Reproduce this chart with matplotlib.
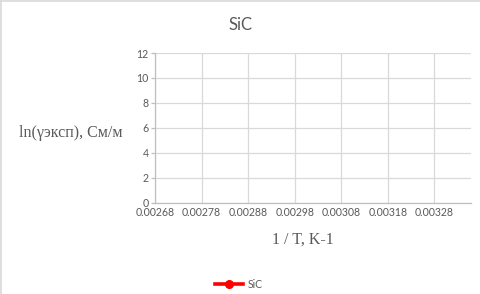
import matplotlib
matplotlib.use("Agg")
import matplotlib.pyplot as plt
from matplotlib.lines import Line2D

# Data (no visible points in the reference plot area)
series_name = "SiC"
x_values = []
y_values = []

x_ticks = [0.00268, 0.00278, 0.00288, 0.00298, 0.00308, 0.00318, 0.00328]
x_tick_labels = ["0.00268", "0.00278", "0.00288", "0.00298", "0.00308", "0.00318", "0.00328"]
y_ticks = [0, 2, 4, 6, 8, 10, 12]

title = "SiC"
x_label = "1 / T, K-1"
y_label = "ln(γэксп), См/м"

fig = plt.figure(figsize=(4.81, 2.94), dpi=100)
ax = fig.add_axes([155/481, (294-202.5)/294, (471-155)/481, (202.5-53)/294])

ax.plot(x_values, y_values, color="#ff0000", marker="o", lw=2.2, ms=5, label=series_name)

ax.set_xlim(0.00268, 0.00268 + (471-155)/46.55*0.0001)
ax.set_ylim(0, 12)
ax.set_xticks(x_ticks)
ax.set_xticklabels(x_tick_labels)
ax.set_yticks(y_ticks)
ax.grid(True, color="#d9d9d9", lw=0.9)
ax.set_axisbelow(True)
for s in ["top", "right"]:
    ax.spines[s].set_visible(False)
for s in ["left", "bottom"]:
    ax.spines[s].set_color("#bfbfbf")
    ax.spines[s].set_linewidth(0.9)
ax.tick_params(axis="x", length=0, labelsize=7.6, pad=3.6)
ax.tick_params(axis="y", length=3, color="#bfbfbf", width=0.9, direction="out", pad=1.5, labelsize=7.6)
for lbl in ax.get_xticklabels() + ax.get_yticklabels():
    lbl.set_fontfamily("Lato")
    lbl.set_color("#595959")

fig.text(241/481, 1 - 25/294, title, ha="center", va="center", fontsize=12, color="#595959", family="Lato")
fig.text(303/481, 1 - 240/294, x_label, ha="center", va="center", fontsize=11.5, color="#595959", family="Liberation Serif")
fig.text(71/481, 1 - 133/294, y_label, ha="center", va="center", fontsize=11.5, color="#595959", family="Liberation Serif")

handle = Line2D([], [], color="#ff0000", marker="o", lw=2.6, ms=5.5)
fig.legend([handle], [series_name], loc="center", bbox_to_anchor=(239/481, 1 - 284/294),
           frameon=False, handlelength=2.6, handletextpad=0.45,
           prop={"family": "Lato", "size": 7.6}, labelcolor="#595959")

# chart border (top and left visible)
fig.add_artist(Line2D([0, 1], [1 - 0.5/294, 1 - 0.5/294], color="#d9d9d9", lw=1.2))
fig.add_artist(Line2D([0.5/481, 0.5/481], [0, 1], color="#d9d9d9", lw=1.2))

fig.savefig("out.png", dpi=100)
